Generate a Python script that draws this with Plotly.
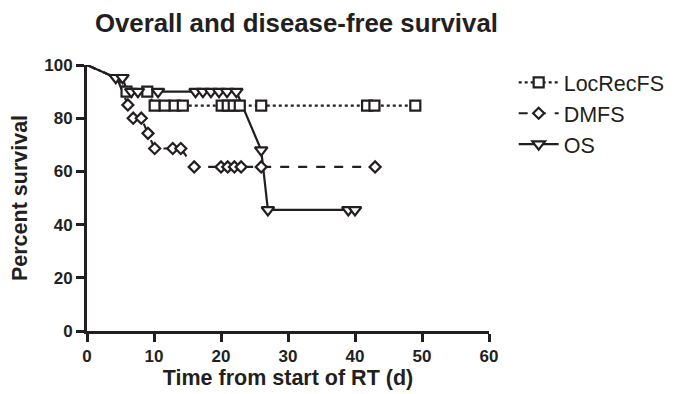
import plotly.graph_objects as go

# ---- data ----
loc_t = [0, 4.5, 5.9, 9.0, 10.1, 11.6, 13.1, 14.3, 20.1, 21.0, 21.9, 22.8, 26.0, 41.8, 42.9, 49.0]
loc_s = [100, 95, 90, 90, 84.7, 84.7, 84.7, 84.7, 84.7, 84.7, 84.7, 84.7, 84.7, 84.7, 84.7, 84.7]
loc_m = [0, 0, 1, 1, 1, 1, 1, 1, 1, 1, 1, 1, 1, 1, 1, 1]

dm_t = [0, 4.5, 5.3, 6.1, 6.9, 8.1, 9.1, 10.1, 12.8, 14.0, 16.0, 20.0, 21.0, 22.0, 23.0, 26.0, 43.0]
dm_s = [100, 95, 90, 85, 80, 80, 74.3, 68.6, 68.6, 68.6, 61.7, 61.7, 61.7, 61.7, 61.7, 61.7, 61.7]
dm_m = [0, 0, 0, 1, 1, 1, 1, 1, 1, 1, 1, 1, 1, 1, 1, 1, 1]

os_t = [0, 4.3, 5.3, 6.0, 6.6, 7.6, 10.6, 16.2, 17.3, 18.5, 19.7, 20.9, 22.3, 26.0, 27.0, 39.0, 40.0]
os_s = [100, 95.2, 95.2, 90, 90, 90, 90, 90, 90, 90, 90, 90, 90, 68, 45.5, 45.5, 45.5]
os_m = [0, 1, 1, 0, 1, 1, 1, 1, 1, 1, 1, 1, 1, 1, 1, 1, 1]

series_names = ["LocRecFS", "DMFS", "OS"]
x_ticks = [0, 10, 20, 30, 40, 50, 60]
y_ticks = [0, 20, 40, 60, 80, 100]

INK = "#231f20"
FONT = "Liberation Sans, Arial, sans-serif"

series = [
    (series_names[0], loc_t, loc_s, loc_m, "dot", "square", 10),
    (series_names[1], dm_t, dm_s, dm_m, "dash", "diamond", 8.5),
    (series_names[2], os_t, os_s, os_m, "solid", "triangle-down", 11),
]

fig = go.Figure()

# lines first
for name, t, s, m, dash, sym, size in series:
    fig.add_trace(go.Scatter(x=t, y=s, mode="lines", showlegend=False, hoverinfo="skip",
                             line=dict(color=INK, width=2.2, dash=dash), cliponaxis=False))

# markers on top (white fill)
for name, t, s, m, dash, sym, size in series:
    mt = [a for a, k in zip(t, m) if k]
    ms = [b for b, k in zip(s, m) if k]
    fig.add_trace(go.Scatter(x=mt, y=ms, mode="markers", showlegend=False, cliponaxis=False,
                             marker=dict(symbol=sym, size=size, color="white",
                                         line=dict(color=INK, width=2.2))))

# legend entries
for name, t, s, m, dash, sym, size in series:
    fig.add_trace(go.Scatter(x=[None], y=[None], mode="lines+markers", name=name,
                             legendgroup=name,
                             line=dict(color=INK, width=2.2, dash=dash),
                             marker=dict(symbol=sym, size=size, color="white",
                                         line=dict(color=INK, width=2.2))))

axis_common = dict(showline=True, linecolor=INK, linewidth=3, ticks="outside", ticklen=8,
                   tickwidth=3, tickcolor=INK, showgrid=False, zeroline=False, automargin=False,
                   tickfont=dict(family=FONT, size=17, color=INK, weight="bold"))

# page body adds an 8px offset, so the figure is sized/margined to compensate
W, H = 668, 386
fig.update_layout(
    width=W, height=H,
    margin=dict(l=79, r=W - 79 - 402, t=57, b=H - 57 - 266, autoexpand=False),
    paper_bgcolor="white", plot_bgcolor="white",
    title=dict(text="Overall and disease-free survival", xref="paper", x=0.521, xanchor="center",
               yref="container", y=1 - 15 / H, yanchor="middle",
               font=dict(family=FONT, size=25.8, color=INK, weight="bold")),
    xaxis=dict(range=[0, 60], tickvals=x_ticks, **axis_common,
               title=dict(text="Time from start of RT (d)", standoff=0,
                          font=dict(family=FONT, size=21.5, color=INK, weight="bold"))),
    yaxis=dict(range=[0, 100], tickvals=y_ticks, **axis_common,
               title=dict(text="Percent survival", standoff=13,
                          font=dict(family=FONT, size=21.5, color=INK, weight="bold"))),
    legend=dict(xref="container", yref="container", x=0.757, y=1 - 53.8 / H,
                xanchor="left", yanchor="top", tracegroupgap=0,
                itemwidth=40, font=dict(family=FONT, size=21.5, color=INK),
                bgcolor="rgba(0,0,0,0)"),
    showlegend=True,
)

fig.write_html("out.html")
